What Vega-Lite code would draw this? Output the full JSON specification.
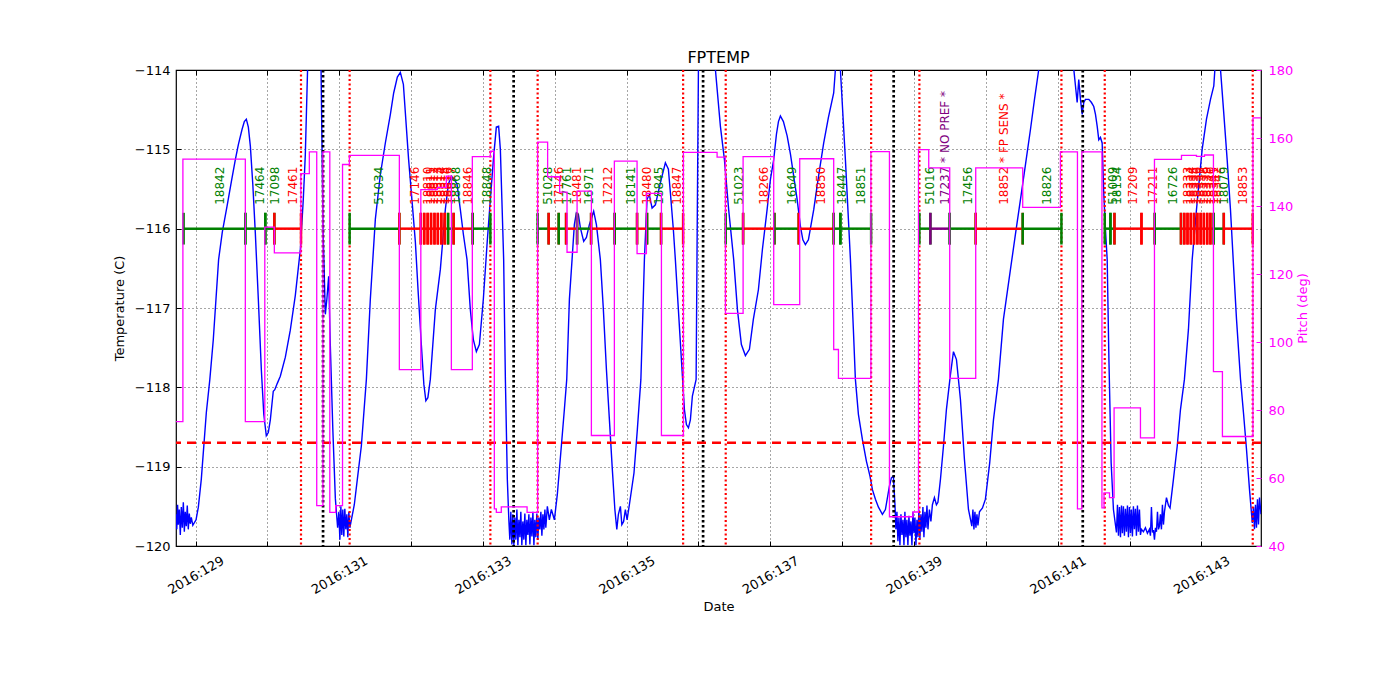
{
"$schema": "https://vega.github.io/schema/vega-lite/v6.json",
"width": 1085, "height": 476,
"autosize": "none",
"padding": {"left": 176, "top": 70, "right": 139, "bottom": 154},
"background": "white",
"title": {"text": "FPTEMP", "fontSize": 16, "fontWeight": "normal", "font": "DejaVu Sans", "color": "black", "frame": "group", "anchor": "middle", "offset": -2},
"datasets": {
"temp": [
{"t":128.727,"v":-119.60},{"t":128.738,"v":-119.79},{"t":128.749,"v":-119.48},{"t":128.759,"v":-119.73},{"t":128.773,"v":-119.54},{"t":128.787,"v":-119.86},{"t":128.801,"v":-119.51},{"t":128.815,"v":-119.77},{"t":128.829,"v":-119.45},{"t":128.843,"v":-119.82},{"t":128.856,"v":-119.57},{"t":128.870,"v":-119.75},{"t":128.884,"v":-119.49},{"t":128.898,"v":-119.79},{"t":128.912,"v":-119.59},{"t":128.926,"v":-119.72},{"t":128.940,"v":-119.64},{"t":128.961,"v":-119.74},{"t":129.006,"v":-119.67},{"t":129.038,"v":-119.51},{"t":129.079,"v":-119.16},{"t":129.149,"v":-118.32},{"t":129.198,"v":-117.90},{"t":129.246,"v":-117.40},{"t":129.320,"v":-116.39},{"t":129.372,"v":-116.04},{"t":129.437,"v":-115.72},{"t":129.497,"v":-115.41},{"t":129.553,"v":-115.13},{"t":129.595,"v":-114.94},{"t":129.646,"v":-114.75},{"t":129.678,"v":-114.65},{"t":129.706,"v":-114.62},{"t":129.734,"v":-114.72},{"t":129.762,"v":-114.96},{"t":129.796,"v":-115.44},{"t":129.831,"v":-116.05},{"t":129.873,"v":-116.89},{"t":129.915,"v":-117.78},{"t":129.949,"v":-118.34},{"t":129.984,"v":-118.61},{"t":130.012,"v":-118.57},{"t":130.040,"v":-118.41},{"t":130.081,"v":-118.05},{"t":130.102,"v":-118.03},{"t":130.137,"v":-117.95},{"t":130.179,"v":-117.86},{"t":130.249,"v":-117.62},{"t":130.318,"v":-117.28},{"t":130.388,"v":-116.84},{"t":130.458,"v":-116.26},{"t":130.499,"v":-115.63},{"t":130.527,"v":-115.07},{"t":130.551,"v":-114.25},{"t":130.562,"v":-113.87},{"t":130.653,"v":-113.11},{"t":130.729,"v":-113.36},{"t":130.746,"v":-113.99},{"t":130.774,"v":-116.02},{"t":130.806,"v":-117.08},{"t":130.827,"v":-116.89},{"t":130.852,"v":-116.60},{"t":130.875,"v":-117.47},{"t":130.910,"v":-118.53},{"t":130.945,"v":-119.40},{"t":130.977,"v":-119.77},
{"t":130.994,"v":-119.57},{"t":131.008,"v":-119.92},{"t":131.022,"v":-119.50},{"t":131.035,"v":-119.86},{"t":131.049,"v":-119.54},{"t":131.063,"v":-119.88},{"t":131.077,"v":-119.53},{"t":131.091,"v":-119.79},{"t":131.105,"v":-119.60},{"t":131.119,"v":-119.89},{"t":131.133,"v":-119.57},{"t":131.147,"v":-119.77},{"t":131.168,"v":-119.67},{"t":131.209,"v":-119.48},{"t":131.251,"v":-119.16},{"t":131.307,"v":-118.74},{"t":131.377,"v":-117.90},{"t":131.432,"v":-116.89},{"t":131.502,"v":-115.88},{"t":131.571,"v":-115.32},{"t":131.641,"v":-114.92},{"t":131.711,"v":-114.56},{"t":131.757,"v":-114.29},{"t":131.808,"v":-114.09},{"t":131.850,"v":-114.03},{"t":131.892,"v":-114.18},{"t":131.965,"v":-115.13},{"t":132.017,"v":-115.70},{"t":132.059,"v":-116.17},{"t":132.100,"v":-116.83},{"t":132.142,"v":-117.46},{"t":132.177,"v":-117.96},{"t":132.205,"v":-118.17},{"t":132.233,"v":-118.13},{"t":132.267,"v":-117.90},{"t":132.337,"v":-117.02},{"t":132.407,"v":-116.51},{"t":132.476,"v":-115.76},{"t":132.518,"v":-115.44},{"t":132.560,"v":-115.34},{"t":132.602,"v":-115.38},{"t":132.639,"v":-115.44},{"t":132.685,"v":-115.76},{"t":132.727,"v":-116.07},{"t":132.778,"v":-116.39},{"t":132.824,"v":-117.02},{"t":132.866,"v":-117.40},{"t":132.908,"v":-117.55},{"t":132.950,"v":-117.46},{"t":133.005,"v":-116.89},{"t":133.061,"v":-116.14},{"t":133.103,"v":-115.63},{"t":133.145,"v":-115.13},{"t":133.186,"v":-114.72},{"t":133.218,"v":-114.71},{"t":133.242,"v":-115.00},{"t":133.263,"v":-115.63},{"t":133.288,"v":-116.39},{"t":133.312,"v":-117.90},{"t":133.339,"v":-119.16},{"t":133.360,"v":-119.67},
{"t":133.374,"v":-119.92},{"t":133.388,"v":-119.57},{"t":133.402,"v":-119.98},{"t":133.416,"v":-119.60},{"t":133.430,"v":-119.99},{"t":133.444,"v":-119.64},{"t":133.458,"v":-119.92},{"t":133.472,"v":-119.54},{"t":133.486,"v":-119.99},{"t":133.500,"v":-119.67},{"t":133.514,"v":-119.89},{"t":133.527,"v":-119.57},{"t":133.541,"v":-119.99},{"t":133.555,"v":-119.69},{"t":133.569,"v":-119.92},{"t":133.583,"v":-119.59},{"t":133.597,"v":-119.99},{"t":133.611,"v":-119.67},{"t":133.625,"v":-119.86},{"t":133.639,"v":-119.60},{"t":133.653,"v":-119.98},{"t":133.667,"v":-119.64},{"t":133.681,"v":-119.88},{"t":133.695,"v":-119.57},{"t":133.709,"v":-119.99},{"t":133.722,"v":-119.67},{"t":133.736,"v":-119.89},{"t":133.750,"v":-119.59},{"t":133.764,"v":-119.92},{"t":133.778,"v":-119.64},{"t":133.792,"v":-119.79},{"t":133.806,"v":-119.57},{"t":133.820,"v":-119.87},{"t":133.834,"v":-119.60},{"t":133.848,"v":-119.79},{"t":133.862,"v":-119.54},{"t":133.875,"v":-119.77},{"t":133.896,"v":-119.50},{"t":133.924,"v":-119.67},{"t":133.952,"v":-119.54},{"t":133.994,"v":-119.67},{"t":134.035,"v":-119.35},{"t":134.091,"v":-118.74},{"t":134.133,"v":-118.28},{"t":134.166,"v":-117.90},{"t":134.203,"v":-116.89},{"t":134.240,"v":-116.39},{"t":134.272,"v":-115.95},{"t":134.300,"v":-115.80},{"t":134.328,"v":-115.82},{"t":134.356,"v":-115.99},{"t":134.402,"v":-116.16},{"t":134.440,"v":-116.11},{"t":134.481,"v":-115.95},{"t":134.541,"v":-115.78},{"t":134.579,"v":-115.95},{"t":134.634,"v":-116.39},{"t":134.676,"v":-117.02},{"t":134.718,"v":-117.77},{"t":134.760,"v":-118.41},{"t":134.801,"v":-119.04},{"t":134.836,"v":-119.54},{"t":134.863,"v":-119.79},{"t":134.885,"v":-119.60},{"t":134.913,"v":-119.50},{"t":134.933,"v":-119.73},{"t":134.958,"v":-119.69},{"t":134.982,"v":-119.54},{"t":135.006,"v":-119.67},{"t":135.038,"v":-119.48},{"t":135.102,"v":-119.08},{"t":135.149,"v":-118.53},{"t":135.198,"v":-117.90},{"t":135.219,"v":-117.27},{"t":135.247,"v":-116.39},{"t":135.284,"v":-115.63},{"t":135.316,"v":-115.57},{"t":135.354,"v":-115.74},{"t":135.400,"v":-115.70},{"t":135.470,"v":-115.42},{"t":135.539,"v":-115.17},{"t":135.581,"v":-115.25},{"t":135.609,"v":-115.55},{"t":135.650,"v":-116.01},{"t":135.678,"v":-116.39},{"t":135.720,"v":-117.02},{"t":135.762,"v":-117.65},{"t":135.804,"v":-118.28},{"t":135.832,"v":-118.47},{"t":135.860,"v":-118.51},{"t":135.887,"v":-118.41},{"t":135.915,"v":-118.11},{"t":135.967,"v":-117.90},{"t":135.985,"v":-115.63},{"t":135.999,"v":-113.99},{"t":136.013,"v":-113.11},{"t":136.110,"v":-113.11},{"t":136.221,"v":-113.36},{"t":136.235,"v":-113.99},{"t":136.305,"v":-114.71},{"t":136.361,"v":-115.13},{"t":136.420,"v":-115.76},{"t":136.490,"v":-116.39},{"t":136.542,"v":-117.02},{"t":136.597,"v":-117.46},{"t":136.653,"v":-117.60},{"t":136.709,"v":-117.52},{"t":136.764,"v":-117.14},{"t":136.834,"v":-116.77},{"t":136.890,"v":-116.26},{"t":136.955,"v":-115.76},{"t":137.001,"v":-115.38},{"t":137.047,"v":-115.13},{"t":137.085,"v":-114.81},{"t":137.113,"v":-114.65},{"t":137.140,"v":-114.58},{"t":137.182,"v":-114.65},{"t":137.234,"v":-114.83},{"t":137.280,"v":-115.06},{"t":137.326,"v":-115.34},{"t":137.373,"v":-115.63},{"t":137.419,"v":-115.97},{"t":137.453,"v":-116.14},{"t":137.488,"v":-116.20},{"t":137.530,"v":-116.14},{"t":137.604,"v":-115.76},{"t":137.669,"v":-115.35},{"t":137.743,"v":-114.92},{"t":137.808,"v":-114.60},{"t":137.882,"v":-114.29},{"t":137.906,"v":-113.99},{"t":137.934,"v":-113.11},{"t":137.961,"v":-113.11},{"t":137.975,"v":-113.99},{"t":138.010,"v":-114.56},{"t":138.045,"v":-115.13},{"t":138.080,"v":-115.76},{"t":138.115,"v":-116.39},{"t":138.156,"v":-117.27},{"t":138.184,"v":-117.90},{"t":138.226,"v":-118.34},{"t":138.282,"v":-118.66},{"t":138.337,"v":-118.93},{"t":138.387,"v":-119.12},{"t":138.421,"v":-119.29},{"t":138.463,"v":-119.41},{"t":138.505,"v":-119.51},{"t":138.560,"v":-119.60},{"t":138.602,"v":-119.54},{"t":138.657,"v":-119.25},{"t":138.685,"v":-119.14},{"t":138.713,"v":-119.12},{"t":138.735,"v":-119.48},
{"t":138.748,"v":-119.79},{"t":138.762,"v":-119.57},{"t":138.776,"v":-119.94},{"t":138.790,"v":-119.64},{"t":138.804,"v":-119.99},{"t":138.818,"v":-119.60},{"t":138.832,"v":-119.86},{"t":138.846,"v":-119.67},{"t":138.860,"v":-119.99},{"t":138.873,"v":-119.57},{"t":138.887,"v":-119.89},{"t":138.901,"v":-119.67},{"t":138.915,"v":-119.99},{"t":138.929,"v":-119.62},{"t":138.943,"v":-119.87},{"t":138.957,"v":-119.69},{"t":138.971,"v":-119.99},{"t":138.985,"v":-119.57},{"t":138.999,"v":-119.84},{"t":139.013,"v":-119.64},{"t":139.027,"v":-119.99},{"t":139.041,"v":-119.67},{"t":139.055,"v":-119.89},{"t":139.068,"v":-119.54},{"t":139.082,"v":-119.92},{"t":139.096,"v":-119.60},{"t":139.110,"v":-119.82},{"t":139.124,"v":-119.51},{"t":139.138,"v":-119.89},{"t":139.152,"v":-119.57},{"t":139.166,"v":-119.77},{"t":139.180,"v":-119.49},{"t":139.194,"v":-119.79},{"t":139.214,"v":-119.54},{"t":139.235,"v":-119.69},{"t":139.256,"v":-119.48},{"t":139.284,"v":-119.39},{"t":139.312,"v":-119.48},{"t":139.333,"v":-119.45},{"t":139.368,"v":-119.16},{"t":139.410,"v":-118.74},{"t":139.451,"v":-118.28},{"t":139.507,"v":-117.84},{"t":139.549,"v":-117.55},{"t":139.591,"v":-117.65},{"t":139.646,"v":-118.15},{"t":139.702,"v":-118.91},{"t":139.758,"v":-119.54},{"t":139.805,"v":-119.75},{"t":139.820,"v":-119.54},{"t":139.834,"v":-119.79},{"t":139.848,"v":-119.57},{"t":139.862,"v":-119.77},{"t":139.876,"v":-119.60},{"t":139.890,"v":-119.74},{"t":139.911,"v":-119.57},{"t":139.953,"v":-119.52},{"t":139.994,"v":-119.41},{"t":140.054,"v":-118.95},{"t":140.106,"v":-118.41},{"t":140.175,"v":-117.90},{"t":140.245,"v":-117.14},{"t":140.343,"v":-116.51},{"t":140.412,"v":-116.07},{"t":140.482,"v":-115.63},{"t":140.552,"v":-115.19},{"t":140.621,"v":-114.75},{"t":140.677,"v":-114.37},{"t":140.737,"v":-113.99},{"t":140.760,"v":-113.61},{"t":140.788,"v":-113.11},{"t":141.192,"v":-113.11},{"t":141.224,"v":-113.99},{"t":141.271,"v":-114.41},{"t":141.293,"v":-114.12},{"t":141.317,"v":-114.37},{"t":141.341,"v":-114.56},{"t":141.363,"v":-114.41},{"t":141.387,"v":-114.37},{"t":141.433,"v":-114.37},{"t":141.470,"v":-114.41},{"t":141.502,"v":-114.46},{"t":141.526,"v":-114.56},{"t":141.550,"v":-114.71},{"t":141.572,"v":-114.88},{"t":141.595,"v":-114.85},{"t":141.619,"v":-114.92},{"t":141.641,"v":-115.55},{"t":141.665,"v":-116.01},{"t":141.689,"v":-116.39},{"t":141.713,"v":-117.65},{"t":141.744,"v":-118.95},{"t":141.776,"v":-119.54},{"t":141.818,"v":-119.83},
{"t":141.832,"v":-119.48},{"t":141.846,"v":-119.87},{"t":141.860,"v":-119.51},{"t":141.874,"v":-119.89},{"t":141.888,"v":-119.49},{"t":141.901,"v":-119.84},{"t":141.915,"v":-119.50},{"t":141.929,"v":-119.87},{"t":141.943,"v":-119.53},{"t":141.957,"v":-119.82},{"t":141.971,"v":-119.49},{"t":141.985,"v":-119.89},{"t":141.999,"v":-119.51},{"t":142.013,"v":-119.84},{"t":142.026,"v":-119.54},{"t":142.040,"v":-119.88},{"t":142.054,"v":-119.50},{"t":142.068,"v":-119.79},{"t":142.082,"v":-119.53},{"t":142.096,"v":-119.87},{"t":142.110,"v":-119.49},{"t":142.124,"v":-119.82},{"t":142.138,"v":-119.54},{"t":142.152,"v":-119.86},{"t":142.166,"v":-119.79},{"t":142.193,"v":-119.82},{"t":142.221,"v":-119.77},{"t":142.249,"v":-119.84},{"t":142.277,"v":-119.79},{"t":142.291,"v":-119.87},{"t":142.305,"v":-119.51},{"t":142.319,"v":-119.83},{"t":142.333,"v":-119.80},{"t":142.347,"v":-119.92},{"t":142.361,"v":-119.77},{"t":142.375,"v":-119.82},{"t":142.389,"v":-119.57},{"t":142.403,"v":-119.79},{"t":142.416,"v":-119.75},{"t":142.430,"v":-119.60},{"t":142.444,"v":-119.79},{"t":142.458,"v":-119.48},{"t":142.472,"v":-119.73},{"t":142.486,"v":-119.57},{"t":142.514,"v":-119.39},{"t":142.542,"v":-119.49},{"t":142.564,"v":-119.52},{"t":142.611,"v":-119.16},{"t":142.664,"v":-118.74},{"t":142.709,"v":-118.28},{"t":142.764,"v":-117.90},{"t":142.820,"v":-117.27},{"t":142.872,"v":-116.39},{"t":142.932,"v":-115.76},{"t":143.011,"v":-115.00},{"t":143.071,"v":-114.62},{"t":143.127,"v":-114.37},{"t":143.173,"v":-114.20},{"t":143.197,"v":-113.87},{"t":143.224,"v":-113.49},{"t":143.245,"v":-113.61},{"t":143.266,"v":-113.99},{"t":143.308,"v":-114.50},{"t":143.359,"v":-115.13},{"t":143.405,"v":-115.76},{"t":143.443,"v":-116.39},{"t":143.489,"v":-117.14},{"t":143.545,"v":-117.90},{"t":143.586,"v":-118.32},{"t":143.628,"v":-118.78},{"t":143.670,"v":-119.29},{"t":143.709,"v":-119.71},{"t":143.725,"v":-119.51},{"t":143.739,"v":-119.79},{"t":143.753,"v":-119.48},{"t":143.767,"v":-119.77},{"t":143.781,"v":-119.41},{"t":143.795,"v":-119.73},{"t":143.809,"v":-119.39},{"t":143.830,"v":-119.60}
],
"pitch": [
{"t":128.727,"p":76.6},{"t":128.823,"p":153.8},{"t":129.692,"p":76.6},{"t":129.963,"p":133.8},{"t":130.096,"p":126.2},{"t":130.465,"p":149.5},{"t":130.583,"p":155.9},{"t":130.686,"p":51.9},{"t":130.772,"p":155.9},{"t":130.868,"p":49.9},{"t":130.949,"p":51.9},{"t":131.045,"p":152.2},{"t":131.140,"p":154.9},{"t":131.836,"p":91.9},{"t":132.135,"p":144.8},{"t":132.365,"p":145.5},{"t":132.490,"p":148.8},{"t":132.560,"p":91.9},{"t":132.852,"p":154.5},{"t":133.103,"p":156.1},{"t":133.158,"p":50.9},{"t":133.186,"p":49.9},{"t":133.255,"p":51.5},{"t":133.614,"p":49.9},{"t":133.761,"p":158.8},{"t":133.900,"p":148.6},{"t":134.067,"p":144.1},{"t":134.170,"p":126.4},{"t":134.310,"p":144.4},{"t":134.509,"p":72.5},{"t":134.829,"p":153.2},{"t":135.145,"p":126.0},{"t":135.275,"p":143.7},{"t":135.484,"p":72.5},{"t":135.790,"p":155.8},{"t":136.259,"p":154.4},{"t":136.375,"p":108.4},{"t":136.621,"p":154.5},{"t":137.047,"p":111.0},{"t":137.409,"p":153.9},{"t":137.882,"p":97.8},{"t":137.948,"p":89.3},{"t":138.400,"p":156.0},{"t":138.658,"p":48.6},{"t":138.985,"p":50.0},{"t":139.062,"p":156.6},{"t":139.205,"p":151.2},{"t":139.497,"p":89.3},{"t":139.859,"p":151.2},{"t":140.513,"p":139.6},{"t":141.038,"p":155.9},{"t":141.275,"p":50.9},{"t":141.336,"p":155.9},{"t":141.616,"p":51.2},{"t":141.645,"p":55.6},{"t":141.721,"p":54.2},{"t":141.785,"p":80.6},{"t":142.152,"p":71.8},{"t":142.347,"p":153.7},{"t":142.723,"p":154.9},{"t":142.932,"p":154.6},{"t":143.043,"p":155.0},{"t":143.168,"p":91.3},{"t":143.293,"p":72.2},{"t":143.718,"p":165.9},{"t":143.830,"p":165.9}
],
"vlines": [
{"t":130.467,"kind":"radzone"},{"t":131.144,"kind":"radzone"},{"t":133.103,"kind":"radzone"},{"t":133.761,"kind":"radzone"},{"t":135.786,"kind":"radzone"},{"t":136.379,"kind":"radzone"},{"t":138.403,"kind":"radzone"},{"t":139.075,"kind":"radzone"},{"t":141.052,"kind":"radzone"},{"t":141.655,"kind":"radzone"},{"t":143.715,"kind":"radzone"},
{"t":130.774,"kind":"perigee"},{"t":133.427,"kind":"perigee"},{"t":136.064,"kind":"perigee"},{"t":138.717,"kind":"perigee"},{"t":141.349,"kind":"perigee"}
],
"limits": [{"limit": -118.7}],
"obs": [
{"t":128.833,"t2":129.692,"tm":129.263,"id":"18842","s":"ok"},
{"t":129.692,"t2":129.970,"tm":129.831,"id":"17464","s":"ok"},
{"t":129.970,"t2":130.096,"tm":130.033,"id":"17098","s":"ok"},
{"t":130.096,"t2":130.467,"tm":130.282,"id":"17461","s":"hot"},
{"t":131.144,"t2":131.836,"tm":131.490,"id":"51034","s":"ok"},
{"t":131.836,"t2":132.135,"tm":131.986,"id":"17146","s":"hot"},
{"t":132.135,"t2":132.182,"tm":132.159,"id":"18810","s":"hot"},
{"t":132.182,"t2":132.230,"tm":132.206,"id":"18811","s":"hot"},
{"t":132.230,"t2":132.277,"tm":132.254,"id":"18812","s":"hot"},
{"t":132.277,"t2":132.325,"tm":132.301,"id":"18813","s":"hot"},
{"t":132.325,"t2":132.372,"tm":132.349,"id":"18814","s":"hot"},
{"t":132.372,"t2":132.420,"tm":132.396,"id":"18815","s":"hot"},
{"t":132.420,"t2":132.467,"tm":132.444,"id":"18816","s":"hot"},
{"t":132.467,"t2":132.514,"tm":132.491,"id":"18817","s":"hot"},
{"t":132.514,"t2":132.592,"tm":132.553,"id":"18868","s":"ok"},
{"t":132.592,"t2":132.856,"tm":132.724,"id":"18846","s":"hot"},
{"t":132.856,"t2":133.103,"tm":132.980,"id":"18848","s":"ok"},
{"t":133.761,"t2":133.914,"tm":133.838,"id":"51028","s":"ok"},
{"t":133.914,"t2":134.054,"tm":133.984,"id":"17146","s":"hot"},
{"t":134.054,"t2":134.157,"tm":134.106,"id":"17761","s":"ok"},
{"t":134.157,"t2":134.310,"tm":134.234,"id":"18481","s":"hot"},
{"t":134.310,"t2":134.505,"tm":134.408,"id":"16971","s":"ok"},
{"t":134.505,"t2":134.833,"tm":134.669,"id":"17212","s":"hot"},
{"t":134.833,"t2":135.145,"tm":134.989,"id":"18141","s":"ok"},
{"t":135.145,"t2":135.284,"tm":135.215,"id":"18480","s":"hot"},
{"t":135.284,"t2":135.479,"tm":135.382,"id":"18845","s":"ok"},
{"t":135.479,"t2":135.786,"tm":135.633,"id":"18847","s":"hot"},
{"t":136.379,"t2":136.621,"tm":136.500,"id":"51023","s":"ok"},
{"t":136.621,"t2":137.057,"tm":136.839,"id":"18266","s":"hot"},
{"t":137.057,"t2":137.395,"tm":137.226,"id":"16649","s":"ok"},
{"t":137.395,"t2":137.882,"tm":137.639,"id":"18850","s":"hot"},
{"t":137.882,"t2":137.975,"tm":137.929,"id":"18447","s":"ok"},
{"t":137.975,"t2":138.403,"tm":138.189,"id":"18851","s":"ok"},
{"t":139.075,"t2":139.228,"tm":139.152,"id":"51016","s":"ok"},
{"t":139.228,"t2":139.497,"tm":139.363,"id":"17237 * NO PREF *","s":"nopref"},
{"t":139.497,"t2":139.859,"tm":139.678,"id":"17456","s":"ok"},
{"t":139.859,"t2":140.513,"tm":140.186,"id":"18852 * FP SENS *","s":"hot"},
{"t":140.513,"t2":141.052,"tm":140.783,"id":"18826","s":"ok"},
{"t":141.655,"t2":141.734,"tm":141.695,"id":"51009","s":"ok"},
{"t":141.734,"t2":141.790,"tm":141.762,"id":"18134","s":"ok"},
{"t":141.790,"t2":142.166,"tm":141.978,"id":"17209","s":"hot"},
{"t":142.166,"t2":142.351,"tm":142.259,"id":"17211","s":"hot"},
{"t":142.351,"t2":142.716,"tm":142.534,"id":"16726","s":"ok"},
{"t":142.716,"t2":142.762,"tm":142.739,"id":"18333","s":"hot"},
{"t":142.762,"t2":142.807,"tm":142.784,"id":"18334","s":"hot"},
{"t":142.807,"t2":142.853,"tm":142.830,"id":"18335","s":"hot"},
{"t":142.853,"t2":142.898,"tm":142.876,"id":"18336","s":"hot"},
{"t":142.898,"t2":142.944,"tm":142.921,"id":"18337","s":"hot"},
{"t":142.944,"t2":142.990,"tm":142.967,"id":"18338","s":"hot"},
{"t":142.990,"t2":143.035,"tm":143.012,"id":"18339","s":"hot"},
{"t":143.035,"t2":143.081,"tm":143.058,"id":"18340","s":"hot"},
{"t":143.081,"t2":143.126,"tm":143.104,"id":"18341","s":"hot"},
{"t":143.126,"t2":143.172,"tm":143.149,"id":"18342","s":"hot"},
{"t":143.172,"t2":143.312,"tm":143.242,"id":"18079","s":"ok"},
{"t":143.312,"t2":143.715,"tm":143.514,"id":"18853","s":"hot"}
]
},
"layer": [
 {"data": {"name": "temp"}, "mark": {"type": "line", "color": "#0000ff", "strokeWidth": 1.4, "clip": true},
  "encoding": {
   "x": {"field": "t", "type": "quantitative", "title": "Date",
    "scale": {"domain": [128.727, 143.83], "nice": false, "zero": false},
    "axis": {"orient": "bottom", "values": [129,130,131,132,133,134,135,136,137,138,139,140,141,142,143],
     "labelExpr": "datum.value % 2 == 1 ? '2016:' + datum.value : ''"}},
   "y": {"field": "v", "type": "quantitative", "title": "Temperature (C)",
    "scale": {"domain": [-120, -114], "nice": false, "zero": false},
    "axis": {"values": [-120,-119,-118,-117,-116,-115,-114], "format": "d", "grid": true, "labelPadding": 11, "titlePadding": 8}}}},
 {"data": {"name": "vlines"}, "transform": [{"filter": "datum.kind == 'radzone'"}],
  "mark": {"type": "rule", "color": "#ff0000", "strokeWidth": 2.2, "strokeDash": [2, 2.5]},
  "encoding": {"x": {"field": "t", "type": "quantitative", "scale": {"domain": [128.727, 143.83], "nice": false, "zero": false}, "axis": null}}},
 {"data": {"name": "vlines"}, "transform": [{"filter": "datum.kind == 'perigee'"}],
  "mark": {"type": "rule", "color": "black", "strokeWidth": 2.7, "strokeDash": [2.5, 2.5]},
  "encoding": {"x": {"field": "t", "type": "quantitative", "scale": {"domain": [128.727, 143.83], "nice": false, "zero": false}, "axis": null}}},
 {"data": {"name": "limits"},
  "mark": {"type": "rule", "color": "#ff0000", "strokeWidth": 2.5, "strokeDash": [9, 6]},
  "encoding": {"y": {"field": "limit", "type": "quantitative", "scale": {"domain": [-120, -114], "nice": false, "zero": false}, "axis": null}}},
 {"data": {"name": "obs"}, "mark": {"type": "rule", "strokeWidth": 2.5},
  "encoding": {
   "x": {"field": "t", "type": "quantitative", "scale": {"domain": [128.727, 143.83], "nice": false, "zero": false}, "axis": null},
   "x2": {"field": "t2"},
   "y": {"datum": -116, "type": "quantitative", "scale": {"domain": [-120, -114], "nice": false, "zero": false}, "axis": null},
   "color": {"field": "s", "type": "nominal", "scale": {"domain": ["ok", "hot", "nopref"], "range": ["#008000", "#ff0000", "#800080"]}, "legend": null}}},
 {"data": {"name": "obs"}, "mark": {"type": "rule", "strokeWidth": 2.5},
  "encoding": {
   "x": {"field": "t2", "type": "quantitative", "scale": {"domain": [128.727, 143.83], "nice": false, "zero": false}, "axis": null},
   "y": {"datum": -115.8, "type": "quantitative", "scale": {"domain": [-120, -114], "nice": false, "zero": false}, "axis": null},
   "y2": {"datum": -116.2},
   "color": {"field": "s", "type": "nominal", "scale": {"domain": ["ok", "hot", "nopref"], "range": ["#008000", "#ff0000", "#800080"]}, "legend": null}}},
 {"data": {"name": "obs"}, "mark": {"type": "rule", "strokeWidth": 2.5},
  "encoding": {
   "x": {"field": "t", "type": "quantitative", "scale": {"domain": [128.727, 143.83], "nice": false, "zero": false}, "axis": null},
   "y": {"datum": -115.8, "type": "quantitative", "scale": {"domain": [-120, -114], "nice": false, "zero": false}, "axis": null},
   "y2": {"datum": -116.2},
   "color": {"field": "s", "type": "nominal", "scale": {"domain": ["ok", "hot", "nopref"], "range": ["#008000", "#ff0000", "#800080"]}, "legend": null}}},
 {"data": {"name": "obs"}, "mark": {"type": "text", "angle": 270, "align": "left", "baseline": "top", "fontSize": 12, "font": "DejaVu Sans"},
  "encoding": {
   "x": {"field": "tm", "type": "quantitative", "scale": {"domain": [128.727, 143.83], "nice": false, "zero": false}, "axis": null},
   "y": {"datum": -115.7, "type": "quantitative", "scale": {"domain": [-120, -114], "nice": false, "zero": false}, "axis": null},
   "text": {"field": "id"},
   "color": {"field": "s", "type": "nominal", "scale": {"domain": ["ok", "hot", "nopref"], "range": ["#008000", "#ff0000", "#800080"]}, "legend": null}}},
 {"data": {"name": "pitch"},
  "mark": {"type": "line", "interpolate": "step-after", "color": "#ff00ff", "strokeWidth": 1.3, "clip": true},
  "encoding": {
   "x": {"field": "t", "type": "quantitative", "title": null, "scale": {"domain": [128.727, 143.83], "nice": false, "zero": false},
    "axis": {"orient": "top", "values": [129,130,131,132,133,134,135,136,137,138,139,140,141,142,143], "labels": false, "grid": false, "title": null}},
   "y": {"field": "p", "type": "quantitative", "title": "Pitch (deg)",
    "scale": {"domain": [40, 180], "nice": false, "zero": false},
    "axis": {"orient": "right", "values": [40,60,80,100,120,140,160,180], "grid": false,
     "labelColor": "#ff00ff", "titleColor": "#ff00ff", "tickColor": "#ff00ff",
     "labelPadding": 12, "titlePadding": 4, "titleAngle": 270, "titleBaseline": "top"}}}}
],
"resolve": {"scale": {"y": "independent"}, "axis": {"x": "independent"}},
"config": {
 "view": {"stroke": "black", "strokeWidth": 1.2},
 "font": "DejaVu Sans",
 "axis": {"labelFont": "DejaVu Sans", "labelFontSize": 13, "labelColor": "black",
  "titleFont": "DejaVu Sans", "titleFontSize": 13, "titleFontWeight": "normal", "titleColor": "black",
  "tickColor": "black", "tickSize": -5, "tickWidth": 1, "domain": false,
  "gridColor": "black", "gridDash": [1, 3], "gridWidth": 0.7, "gridOpacity": 1,
  "labelFlush": false, "labelOverlap": false},
 "axisBottom": {"labelAngle": -30, "labelAlign": "center", "labelBaseline": "middle", "labelPadding": 34, "grid": true, "titlePadding": 4}
}
}
